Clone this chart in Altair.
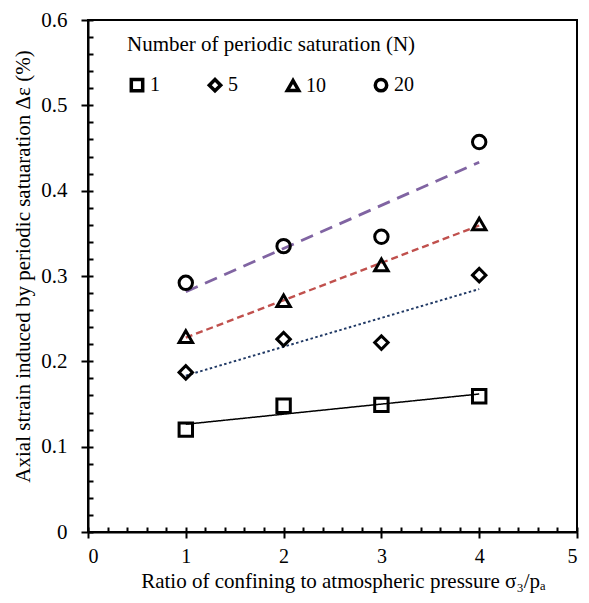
import altair as alt
import pandas as pd

ratio = [1, 2, 3, 4]
n_labels = ["1", "5", "10", "20"]
strain_n1 = [0.120, 0.148, 0.149, 0.159]
strain_n5 = [0.187, 0.226, 0.222, 0.301]
strain_n10 = [0.229, 0.271, 0.313, 0.361]
strain_n20 = [0.292, 0.335, 0.346, 0.457]

shapes = ["square", "diamond", "triangle-up", "circle"]
line_colors = ["#000000", "#1f3864", "#c0504d", "#8064a2"]
line_dashes = [[1, 0], [2.5, 2.5], [7, 4], [13, 8]]
line_widths = [1.5, 2.8, 3, 3]

rows = []
for lab, vals in zip(n_labels, [strain_n1, strain_n5, strain_n10, strain_n20]):
    for x, y in zip(ratio, vals):
        rows.append({"ratio": x, "strain": y, "N": lab})
df = pd.DataFrame(rows)

FONT = "Liberation Serif"
xscale = alt.Scale(domain=[0, 5], nice=False)
yscale = alt.Scale(domain=[0, 0.6], nice=False)

x_major = alt.X("ratio:Q", scale=xscale,
                axis=alt.Axis(values=[0, 1, 2, 3, 4, 5], format="d", tickSize=6, orient="bottom",
                              title="Ratio of confining to atmospheric pressure σ₃/pₐ",
                              titlePadding=4, labelPadding=8, grid=False, titleX=255,
                              domainColor="black", domainWidth=2, tickColor="black",
                              tickWidth=2, labelFont=FONT, labelFontSize=20,
                              titleFont=FONT, titleFontSize=21, titleFontWeight="normal",
                              labelColor="black", titleColor="black"))
y_major = alt.Y("strain:Q", scale=yscale,
                axis=alt.Axis(values=[0, 0.1, 0.2, 0.3, 0.4, 0.5, 0.6], tickSize=7, orient="left",
                              labelExpr="datum.value == 0 ? '0' : format(datum.value, '.1f')",
                              title="Axial strain induced by periodic satuaration Δε (%)",
                              titlePadding=7, labelPadding=14, grid=False, titleY=246,
                              domainColor="black", domainWidth=2, tickColor="black",
                              tickWidth=2, labelFont=FONT, labelFontSize=21,
                              titleFont=FONT, titleFontSize=21, titleFontWeight="normal",
                              labelColor="black", titleColor="black"))

lines = alt.Chart(df).transform_regression(
    "ratio", "strain", groupby=["N"]
).mark_line().encode(
    x=x_major,
    y=y_major,
    color=alt.Color("N:N", scale=alt.Scale(domain=n_labels, range=line_colors), legend=None),
    strokeDash=alt.StrokeDash("N:N", scale=alt.Scale(domain=n_labels, range=line_dashes), legend=None),
    strokeWidth=alt.StrokeWidth("N:N", scale=alt.Scale(domain=n_labels, range=line_widths), legend=None),
)

points = alt.Chart(df).transform_calculate(Nsat="datum.N").mark_point(
    filled=False, color="black", strokeWidth=3, size=180, opacity=1
).encode(
    x=alt.X("ratio:Q", scale=xscale, axis=None),
    y=alt.Y("strain:Q", scale=yscale, axis=None),
    shape=alt.Shape("Nsat:N", scale=alt.Scale(domain=n_labels, range=shapes),
                    title="Number of periodic saturation (N)",
                    legend=alt.Legend(orient="none", legendX=39, legendY=14,
                                      direction="horizontal", columns=4)),
)

minor_x = alt.Chart(df).mark_point(opacity=0).encode(
    x=alt.X("ratio:Q", scale=xscale,
            axis=alt.Axis(values=[i * 0.2 for i in range(26)], labels=False, domain=False,
                          title=None, tickSize=5, tickWidth=2, tickColor="black",
                          offset=-5, grid=False, orient="bottom")),
)
minor_y = alt.Chart(df).mark_point(opacity=0).encode(
    y=alt.Y("strain:Q", scale=yscale,
            axis=alt.Axis(values=[i * 0.02 for i in range(31)], labels=False, domain=False,
                          title=None, tickSize=5, tickWidth=2, tickColor="black",
                          offset=-5, grid=False, orient="left")),
)

chart = alt.layer(lines, points, minor_x, minor_y).resolve_axis(
    x="independent", y="independent"
).resolve_legend(shape="independent").properties(
    width=489, height=512,
    autosize=alt.AutoSizeParams(type="none"),
    padding={"left": 88, "top": 20, "right": 12, "bottom": 71},
    background="white",
).configure(font=FONT).configure_view(stroke="black", strokeWidth=2).configure_legend(
    padding=0, columnPadding=42,
    titleFont=FONT, titleFontSize=21, titleFontWeight="normal", titleLimit=500,
    titleColor="black", titlePadding=20,
    labelFont=FONT, labelFontSize=20, labelColor="black", labelFontWeight="normal",
    labelOffset=3, symbolSize=130, symbolStrokeWidth=3.5, symbolOpacity=1,
    symbolStrokeColor="black", symbolFillColor="white",
)

chart.save("out.html", embed_options={"renderer": "svg", "actions": False})
